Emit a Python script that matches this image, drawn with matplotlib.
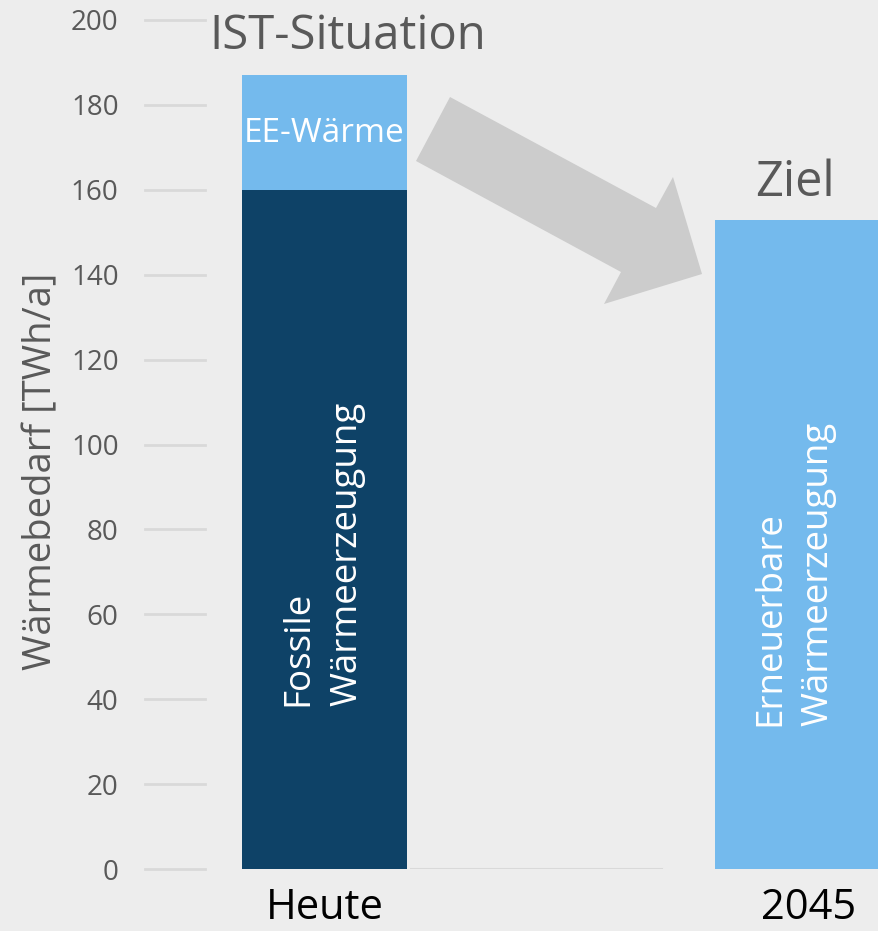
import matplotlib
matplotlib.use("Agg")
import matplotlib.pyplot as plt
from matplotlib.patches import Polygon
from matplotlib.transforms import ScaledTranslation

plt.rcParams['font.family'] = ['Open Sans', 'DejaVu Sans']

# Data
categories = ["Heute", "2045"]
fossil = [160, 0]
renewable = [27, 153]
yticks = [0, 20, 40, 60, 80, 100, 120, 140, 160, 180, 200]

W, H = 879, 931
fig = plt.figure(figsize=(W / 100, H / 100), dpi=100)
bg = "#ededed"
fig.patch.set_facecolor(bg)

ax_l, ax_r, ax_t, ax_b = 145, 879, 20, 869
ax = fig.add_axes([ax_l / W, (H - ax_b) / H, (ax_r - ax_l) / W, (ax_b - ax_t) / H])
ax.set_facecolor(bg)

x = [0, 1]
width = 0.349
dark = "#0e4267"
light = "#74baed"
ax.bar(x, fossil, width=width, color=dark, zorder=2)
ax.bar(x, renewable, width=width, bottom=fossil, color=light, zorder=2)

ax.set_xlim(-0.3795, 1.172)
ax.set_ylim(0, 200)

for s in ax.spines.values():
    s.set_visible(False)

grid_c = "#d9d9d9"
for t in yticks:
    ax.axhline(t, xmin=0, xmax=60 / 734, color=grid_c, lw=2, zorder=1, clip_on=False)
ax.axhline(0, xmin=(411 - 145) / 734, xmax=(662 - 145) / 734, color=grid_c, lw=1.5, zorder=1)

ax.set_yticks(yticks)
ax.set_yticklabels([str(t) for t in yticks], fontsize=20, color="#595959")
ax.tick_params(axis='y', length=0, pad=19)
ax.set_xticks(x)
ax.set_xticklabels(categories, fontsize=30, color="black")
ax.tick_params(axis='x', length=0, pad=13)
lbl = ax.get_xticklabels()[1]
lbl.set_transform(lbl.get_transform() + ScaledTranslation(11 / 100, 0, fig.dpi_scale_trans))

ax.text(-0.141, 0.468, "Wärmebedarf [TWh/a]", fontsize=27.5, color="#595959", rotation=90,
        ha="center", va="center", transform=ax.transAxes)

# Annotations
ax.text(0.05, 196.2, "IST-Situation", fontsize=34, color="#595959", ha="center", va="center", zorder=3)
ax.text(0.995, 161.6, "Ziel", fontsize=35, color="#595959", ha="center", va="center", zorder=3)
ax.text(0, 173.3, "EE-Wärme", fontsize=24, color="white", ha="center", va="center", zorder=3)
ax.text(-0.003, 38.5, "Fossile\nWärmeerzeugung", fontsize=26.5, color="white", rotation=90,
        ha="center", va="bottom", multialignment="left", linespacing=1.5, zorder=3)
ax.text(0.994, 33.8, "Erneuerbare\nWärmeerzeugung", fontsize=26.5, color="white", rotation=90,
        ha="center", va="bottom", multialignment="left", linespacing=1.45, zorder=3)

# Arrow (pixel outline converted to axes fraction)
arrow_px = [(450, 97), (656, 208), (673, 177), (702, 274), (604, 304), (621, 272), (416, 161)]
arrow_ax = [((px - ax_l) / (ax_r - ax_l), (ax_b - py) / (ax_b - ax_t)) for px, py in arrow_px]
ax.add_patch(Polygon(arrow_ax, closed=True, transform=ax.transAxes, facecolor="#cccccc",
                     edgecolor="none", zorder=2, clip_on=False))

fig.savefig("out.png", dpi=100, facecolor=bg)
